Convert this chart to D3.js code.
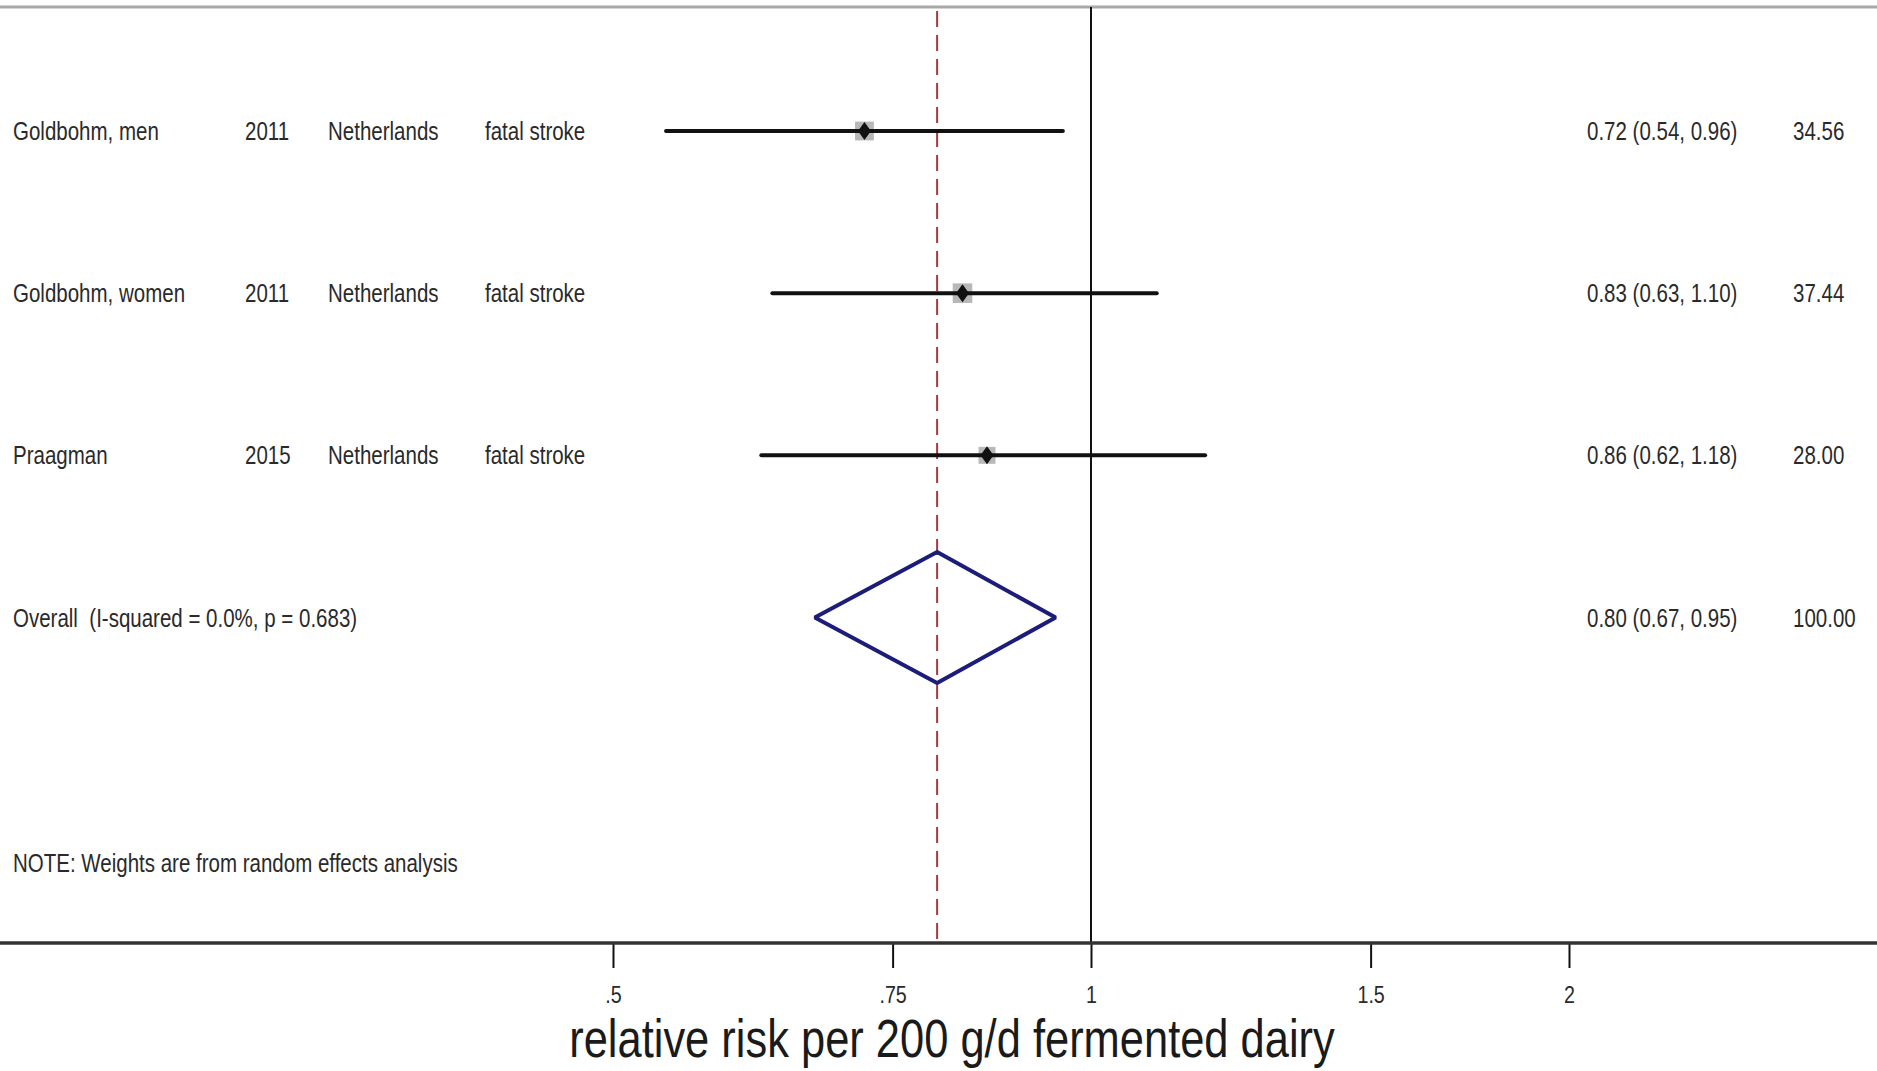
<!DOCTYPE html>
<html>
<head>
<meta charset="utf-8">
<script src="https://cdn.jsdelivr.net/npm/d3@7"></script>
<style>
  html, body { margin: 0; padding: 0; background: #ffffff; }
  svg text { font-family: "Liberation Sans", Arial, sans-serif; fill: #2a2a2a; white-space: pre; }
</style>
</head>
<body>
<svg id="chart" width="1877" height="1071"></svg>
<script>
// Study rows of the forest plot
const studies = ["Goldbohm, men", "Goldbohm, women", "Praagman"];
const years = ["2011", "2011", "2015"];
const countries = ["Netherlands", "Netherlands", "Netherlands"];
const outcomes = ["fatal stroke", "fatal stroke", "fatal stroke"];
const rr = [0.72, 0.83, 0.86];
const lower = [0.54, 0.63, 0.62];
const upper = [0.96, 1.10, 1.18];
const weights = [34.56, 37.44, 28.00];

// Pooled estimate
const overallLabel = "Overall  (I-squared = 0.0%, p = 0.683)";
const overallRR = 0.80;
const overallLower = 0.67;
const overallUpper = 0.95;
const overallWeight = 100.00;

const note = "NOTE: Weights are from random effects analysis";
const tickValues = [0.5, 0.75, 1, 1.5, 2];
const tickLabels = [".5", ".75", "1", "1.5", "2"];
const axisTitle = "relative risk per 200 g/d fermented dairy";

const W = 1877, H = 1071;
const NARROW = 0.82;   // condensed type, as in a narrow sans face
const svg = d3.select("#chart");

const x = d3.scaleLog().domain([0.5, 2]).range([613, 1569]);
const rowLabels = studies.concat([overallLabel]);
const y = d3.scalePoint().domain(d3.range(rowLabels.length)).range([131, 617.5]);

const plotTop = 7, axisY = 943;
const fmt2 = d3.format(".2f");
const ciText = (m, l, u) => `${fmt2(m)} (${fmt2(l)}, ${fmt2(u)})`;

// place a condensed text label at (tx, ty)
function label(sel, tx, ty) {
  return sel.attr("x", 0).attr("y", 0)
    .attr("transform", (d, i) => `translate(${typeof tx === "function" ? tx(d, i) : tx},${typeof ty === "function" ? ty(d, i) : ty}) scale(${NARROW},1)`);
}

// top frame line
svg.append("line")
  .attr("x1", 0).attr("x2", W).attr("y1", plotTop).attr("y2", plotTop)
  .attr("stroke", "#a8a8a8").attr("stroke-width", 3);

// null line at RR = 1
svg.append("line")
  .attr("x1", x(1)).attr("x2", x(1)).attr("y1", plotTop).attr("y2", axisY)
  .attr("stroke", "#111").attr("stroke-width", 2);

// dashed line at the pooled estimate
svg.append("line")
  .attr("x1", x(overallRR)).attr("x2", x(overallRR)).attr("y1", plotTop + 4).attr("y2", axisY)
  .attr("stroke", "#a33a3e").attr("stroke-width", 2)
  .attr("stroke-dasharray", "16,8");

// left-hand study columns
const cols = [
  { x: 13, values: studies },
  { x: 245, values: years },
  { x: 328, values: countries },
  { x: 485, values: outcomes }
];
cols.forEach(c => {
  svg.append("g").selectAll("text").data(c.values).join("text")
    .call(label, c.x, (d, i) => y(i) + 9)
    .attr("font-size", 25)
    .text(d => d);
});

// overall label
svg.append("text").datum(overallLabel).call(label, 13, y(3) + 9).attr("font-size", 25).text(d => d);

// right-hand estimate and weight columns
const estTexts = rr.map((m, i) => ciText(m, lower[i], upper[i])).concat([ciText(overallRR, overallLower, overallUpper)]);
const wTexts = weights.concat([overallWeight]).map(fmt2);
svg.append("g").selectAll("text").data(estTexts).join("text")
  .call(label, 1587, (d, i) => y(i) + 9).attr("font-size", 25).text(d => d);
svg.append("g").selectAll("text").data(wTexts).join("text")
  .call(label, 1793, (d, i) => y(i) + 9).attr("font-size", 25).text(d => d);

// weight squares (area proportional to weight)
const side = d3.scaleSqrt().domain([0, 100]).range([0, 32]);
const g = svg.append("g");
g.selectAll("rect.w").data(weights).join("rect")
  .attr("class", "w")
  .attr("x", (d, i) => x(rr[i]) - side(d) / 2)
  .attr("y", (d, i) => y(i) - side(d) / 2)
  .attr("width", d => side(d)).attr("height", d => side(d))
  .attr("fill", "#b8b8b8");

// confidence intervals
g.selectAll("line.ci").data(rr).join("line")
  .attr("class", "ci")
  .attr("x1", (d, i) => x(lower[i])).attr("x2", (d, i) => x(upper[i]))
  .attr("y1", (d, i) => y(i)).attr("y2", (d, i) => y(i))
  .attr("stroke", "#111").attr("stroke-width", 4).attr("stroke-linecap", "round");

// point estimates
g.selectAll("path.pt").data(rr).join("path")
  .attr("class", "pt")
  .attr("d", (d, i) => {
    const cx = x(d), cy = y(i);
    return `M${cx},${cy - 9}L${cx + 6.5},${cy}L${cx},${cy + 9}L${cx - 6.5},${cy}Z`;
  })
  .attr("fill", "#111");

// pooled diamond
const oy = y(3), dh = 65.5;
svg.append("path")
  .attr("d", `M${x(overallLower)},${oy}L${x(overallRR)},${oy - dh}L${x(overallUpper)},${oy}L${x(overallRR)},${oy + dh}Z`)
  .attr("fill", "none").attr("stroke", "#1c1c7a").attr("stroke-width", 4)
  .attr("stroke-linejoin", "bevel");

// note
svg.append("text").datum(note).call(label, 13, 872).attr("font-size", 25).text(d => d);

// x axis
const axis = d3.axisBottom(x)
  .tickValues(tickValues)
  .tickFormat((d, i) => tickLabels[i])
  .tickSize(25).tickPadding(18);
const ax = svg.append("g").attr("transform", `translate(0,${axisY})`).call(axis);
ax.select(".domain").remove();
ax.selectAll(".tick line").attr("stroke", "#111").attr("stroke-width", 2);
ax.selectAll(".tick text")
  .attr("font-size", 24).attr("font-family", null).attr("fill", "#2a2a2a")
  .attr("transform", `scale(${NARROW},1)`)
  .attr("x", 0);
svg.append("line")
  .attr("x1", 0).attr("x2", W).attr("y1", axisY).attr("y2", axisY)
  .attr("stroke", "#333").attr("stroke-width", 3.5);

// axis title
svg.append("text").datum(axisTitle)
  .call(label, 952, 1057)
  .attr("text-anchor", "middle")
  .attr("font-size", 53)
  .style("fill", "#1a1a1a")
  .text(d => d);
</script>
</body>
</html>
